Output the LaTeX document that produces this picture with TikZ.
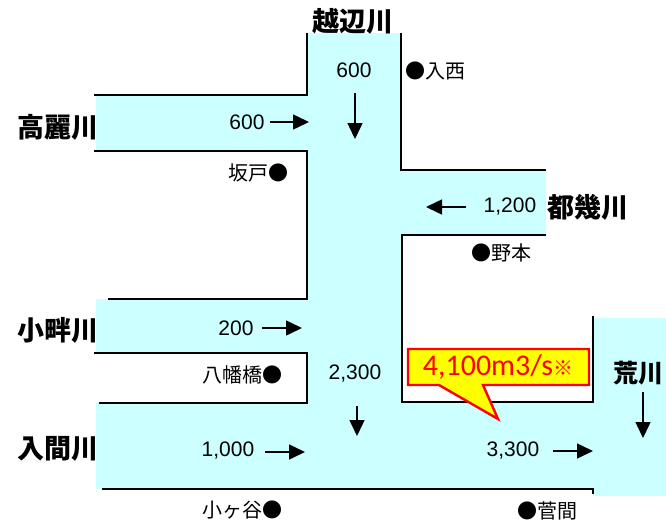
\documentclass[tikz,border=0pt]{standalone}
\usepackage{fontspec}
\setmainfont{Liberation Sans}
\newfontfamily\jp{Noto Sans CJK JP}
\newfontfamily\carl{Carlito}
\usetikzlibrary{arrows.meta}
\definecolor{river}{HTML}{CCFFFF}
\definecolor{callyel}{HTML}{FFFF00}
\definecolor{callred}{HTML}{FF0000}
\tikzset{
  bank/.style={draw=black,line width=1.3pt},
  flow/.style={line width=1.5pt,-{Triangle[length=16pt,width=15pt]}},
  num/.style={inner sep=0pt,font=\fontsize{21}{21}\selectfont},
  place/.style={inner sep=0pt,font=\jp\fontsize{20}{20}\selectfont},
  rname/.style={inner sep=0pt,font=\jp\bfseries\fontsize{27}{27}\selectfont},
}
\begin{document}
\begin{tikzpicture}[x=1pt,y=-1pt]
\useasboundingbox (0,0) rectangle (666,520);
% water
\fill[river] (307,33) rectangle (401,489);
\fill[river] (96,95) rectangle (307,151);
\fill[river] (401,170) rectangle (546,235);
\fill[river] (96,299) rectangle (307,353);
\fill[river] (96,402) rectangle (593,489);
\fill[river] (593,318) rectangle (666,496);
% banks
\draw[bank] (307,33) -- (307,95) -- (94,95);
\draw[bank] (94,151) -- (307,151) -- (307,299) -- (108,299);
\draw[bank] (94,353) -- (307,353) -- (307,403) -- (99,403);
\draw[bank] (102,489) -- (593,489) -- (593,494);
\draw[bank] (401,33) -- (401,170) -- (546,170);
\draw[bank] (546,235) -- (402,235) -- (402,402) -- (593,402) -- (593,316);
% river names
\node[rname] (oppe) at (353,21) {越辺川};
\node[rname] (koma) at (58,127) {高麗川};
\node[rname] (toki) at (588,207) {都幾川};
\node[rname] (koaze) at (58,330) {小畔川};
\node[rname,font=\jp\bfseries\fontsize{25}{25}\selectfont] (ara) at (638,373) {荒川};
\node[rname] (iruma) at (58,449) {入間川};
% flow numbers
\node[num] (n1) at (354,70) {600};
\node[num] (n2) at (247,122) {600};
\node[num] (n3) at (510,207) {1,200};
\node[num] (n4) at (236,328) {200};
\node[num] (n5) at (355,374) {2,300};
\node[num] (n6) at (228,451) {1,000};
\node[num] (n7) at (513,451) {3,300};
% places
\node[place,anchor=east] (p1) at (289,173) {坂戸●};
\node[place,anchor=west] (p2) at (405,71) {●入西};
\node[place,anchor=west] (p3) at (471,253) {●野本};
\node[place,anchor=east] (p4) at (283,375) {八幡橋●};
\node[place,anchor=east] (p5) at (283,510) {小ヶ谷●};
\node[place,anchor=west] (p6) at (517,511) {●菅間};
% arrows
\coordinate (a1s) at (355,93);  \coordinate (a1e) at (355,139);
\coordinate (a2s) at (270,122); \coordinate (a2e) at (309,122);
\coordinate (a3s) at (466,207); \coordinate (a3e) at (426,207);
\coordinate (a4s) at (262,328); \coordinate (a4e) at (302,328);
\coordinate (a5s) at (357,406); \coordinate (a5e) at (357,436);
\coordinate (a6s) at (265,452); \coordinate (a6e) at (305,452);
\coordinate (a7s) at (553,451); \coordinate (a7e) at (593,451);
\coordinate (a8s) at (643,392); \coordinate (a8e) at (643,438);
\draw[flow] (a1s) -- (a1e);
\draw[flow] (a2s) -- (a2e);
\draw[flow] (a3s) -- (a3e);
\draw[flow] (a4s) -- (a4e);
\draw[flow] (a5s) -- (a5e);
\draw[flow] (a6s) -- (a6e);
\draw[flow] (a7s) -- (a7e);
\draw[flow] (a8s) -- (a8e);
% callout
\draw[fill=callyel,draw=callred,line width=2.4pt,line join=miter]
  (408,349) -- (589,349) -- (589,385) -- (483,385) -- (498,419) -- (439,385) -- (408,385) -- cycle;
\node[inner sep=0pt,text=callred] (call) at (498,367)
  {\carl\fontsize{30}{30}\selectfont 4,100m3/s\jp\fontsize{20}{20}\selectfont ※};
\end{tikzpicture}
\end{document}
